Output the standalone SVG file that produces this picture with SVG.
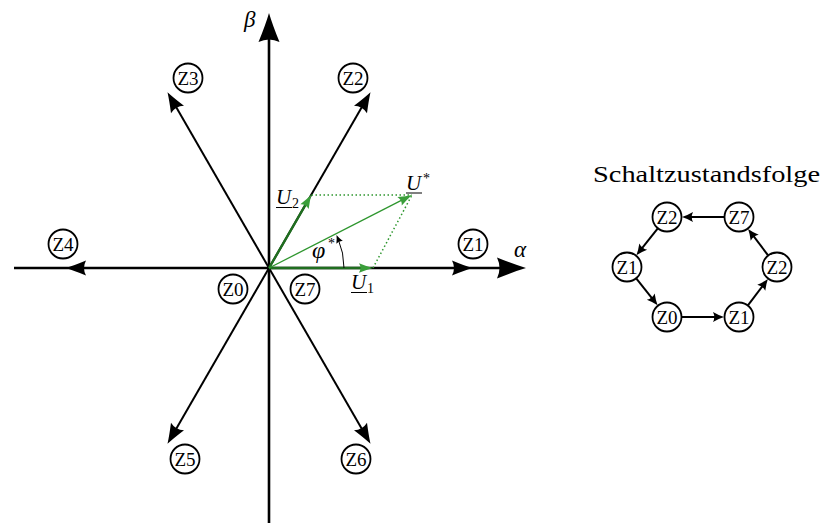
<svg xmlns="http://www.w3.org/2000/svg" width="822" height="523" viewBox="0 0 822 523">
<style>
.ax{stroke:#000;stroke-width:2.6;fill:none}
.vec{stroke:#000;stroke-width:2;fill:none}
.gthick{stroke:#1f6e1f;stroke-width:2.4;fill:none}
.gthin{stroke:#2e962e;stroke-width:1.3;fill:none}
.gdot{stroke:#2e962e;stroke-width:1.5;fill:none;stroke-dasharray:1.5 2.5}
.arc{stroke:#000;stroke-width:1;fill:none}
.seq{stroke:#000;stroke-width:2;fill:none}
circle{fill:#fff;stroke:#000;stroke-width:1.8}
.lbl{font-family:"Liberation Serif","DejaVu Serif",serif;font-size:19px;text-anchor:middle}
.math{font-family:"Liberation Serif","DejaVu Serif",serif;font-style:italic}
.sub{font-family:"Liberation Serif","DejaVu Serif",serif;font-size:14px}
.title{font-family:"Liberation Serif","DejaVu Serif",serif;font-size:24px}
</style>
<defs>
<marker id="mAxis" markerUnits="userSpaceOnUse" orient="auto" refX="-12" refY="0" markerWidth="40" markerHeight="30" overflow="visible" style="overflow:visible">
<path d="M0,0 Q-12,-3.5 -29,-10.5 Q-24,0 -29,10.5 Q-12,3.5 0,0Z" fill="#000"/>
</marker>
<marker id="mVec" markerUnits="userSpaceOnUse" orient="auto" refX="-8" refY="0" markerWidth="30" markerHeight="20" overflow="visible" style="overflow:visible">
<path d="M0,0 Q-8,-2.5 -20,-7.5 Q-16,0 -20,7.5 Q-8,2.5 0,0Z" fill="#000"/>
</marker>
<marker id="mGreen" markerUnits="userSpaceOnUse" orient="auto" refX="-6" refY="0" markerWidth="20" markerHeight="12" overflow="visible" style="overflow:visible">
<path d="M0,0 Q-6,-1.5 -14,-4.8 Q-11,0 -14,4.8 Q-6,1.5 0,0Z" fill="#3a9e3a"/>
</marker>
<marker id="mSmall" markerUnits="userSpaceOnUse" orient="auto" refX="-5" refY="0" markerWidth="16" markerHeight="12" overflow="visible" style="overflow:visible">
<path d="M0,0 Q-5,-1.5 -11,-5 Q-8.5,0 -11,5 Q-5,1.5 0,0Z" fill="#000"/>
</marker>
<marker id="mArc" markerUnits="userSpaceOnUse" orient="auto" refX="-4" refY="0" markerWidth="10" markerHeight="8" overflow="visible" style="overflow:visible">
<path d="M0,0 Q-3.5,-1 -8,-3.5 Q-6,0 -8,3.5 Q-3.5,1 0,0Z" fill="#000"/>
</marker>
</defs>

<g id="connectors">
<line class="ax" x1="14" y1="268" x2="514" y2="268" marker-end="url(#mAxis)"/>
<line class="ax" x1="269" y1="523" x2="269" y2="25" marker-end="url(#mAxis)"/>
<line class="vec" x1="269" y1="268" x2="464" y2="268" marker-end="url(#mVec)"/>
<line class="vec" x1="269" y1="268" x2="366.5" y2="99.1" marker-end="url(#mVec)"/>
<line class="vec" x1="269" y1="268" x2="171.5" y2="99.1" marker-end="url(#mVec)"/>
<line class="vec" x1="269" y1="268" x2="74" y2="268" marker-end="url(#mVec)"/>
<line class="vec" x1="269" y1="268" x2="171.5" y2="436.9" marker-end="url(#mVec)"/>
<line class="vec" x1="269" y1="268" x2="366.5" y2="436.9" marker-end="url(#mVec)"/>

<line class="gdot" x1="311.5" y1="195" x2="412" y2="195"/>
<line class="gdot" x1="373" y1="268" x2="412" y2="195"/>
<line class="gthick" x1="269" y1="268" x2="367" y2="268" marker-end="url(#mGreen)"/>
<line class="gthick" x1="269" y1="268" x2="308.5" y2="199.7" marker-end="url(#mGreen)"/>
<line class="gthin" x1="269" y1="268" x2="406.7" y2="197.7" marker-end="url(#mGreen)"/>
<path class="arc" d="M344,268 A75,75 0 0 0 338.04,238.7" marker-end="url(#mArc)"/>

<line class="seq" x1="724" y1="217" x2="687" y2="217" marker-end="url(#mSmall)"/>
<line class="seq" x1="657.6" y1="228.7" x2="639.5" y2="251.4" marker-end="url(#mSmall)"/>
<line class="seq" x1="636.4" y1="278.7" x2="654.5" y2="301.4" marker-end="url(#mSmall)"/>
<line class="seq" x1="682" y1="317" x2="719" y2="317" marker-end="url(#mSmall)"/>
<line class="seq" x1="748.1" y1="305.1" x2="764.9" y2="282.9" marker-end="url(#mSmall)"/>
<line class="seq" x1="767.9" y1="255.1" x2="751.1" y2="232.9" marker-end="url(#mSmall)"/>
</g>

<g id="axis-labels">
<text class="math" x="244" y="27" font-size="23">β</text>
<text class="math" x="514" y="257" font-size="23">α</text>
</g>

<g id="vector-labels">
<text class="math" x="276" y="204" font-size="21">U</text>
<text class="sub" x="292" y="208">2</text>
<line x1="276" y1="207.5" x2="292" y2="207.5" stroke="#000" stroke-width="1"/>
<text class="math" x="406" y="190" font-size="21">U</text>
<text class="sub" x="423" y="183">*</text>
<line x1="406" y1="193" x2="422" y2="193" stroke="#000" stroke-width="1"/>
<text class="math" x="351" y="289" font-size="21">U</text>
<text class="sub" x="367" y="293">1</text>
<line x1="351" y1="292.5" x2="367" y2="292.5" stroke="#000" stroke-width="1"/>
<text class="math" x="312" y="258" font-size="24">φ</text>
<text class="sub" x="328" y="248">*</text>
</g>

<g id="n-z3"><circle cx="188" cy="78" r="14.5"/><text class="lbl" x="188" y="84.5">Z3</text></g>
<g id="n-z2"><circle cx="353" cy="78" r="14.5"/><text class="lbl" x="353" y="84.5">Z2</text></g>
<g id="n-z4"><circle cx="63" cy="244" r="14.5"/><text class="lbl" x="63" y="250.5">Z4</text></g>
<g id="n-z1"><circle cx="473" cy="244" r="14.5"/><text class="lbl" x="473" y="250.5">Z1</text></g>
<g id="n-z0"><circle cx="233" cy="289" r="14.5"/><text class="lbl" x="233" y="295.5">Z0</text></g>
<g id="n-z7"><circle cx="305" cy="289" r="14.5"/><text class="lbl" x="305" y="295.5">Z7</text></g>
<g id="n-z5"><circle cx="185" cy="459" r="14.5"/><text class="lbl" x="185" y="465.5">Z5</text></g>
<g id="n-z6"><circle cx="356" cy="459" r="14.5"/><text class="lbl" x="356" y="465.5">Z6</text></g>

<g id="seq-title"><text class="title" x="593" y="182" textLength="227" lengthAdjust="spacingAndGlyphs">Schaltzustandsfolge</text></g>
<g id="s-z2a"><circle cx="667" cy="217" r="14.5"/><text class="lbl" x="667" y="223.5">Z2</text></g>
<g id="s-z7"><circle cx="739" cy="217" r="14.5"/><text class="lbl" x="739" y="223.5">Z7</text></g>
<g id="s-z1a"><circle cx="627" cy="267" r="14.5"/><text class="lbl" x="627" y="273.5">Z1</text></g>
<g id="s-z2b"><circle cx="777" cy="267" r="14.5"/><text class="lbl" x="777" y="273.5">Z2</text></g>
<g id="s-z0"><circle cx="667" cy="317" r="14.5"/><text class="lbl" x="667" y="323.5">Z0</text></g>
<g id="s-z1b"><circle cx="739" cy="317" r="14.5"/><text class="lbl" x="739" y="323.5">Z1</text></g>
</svg>
